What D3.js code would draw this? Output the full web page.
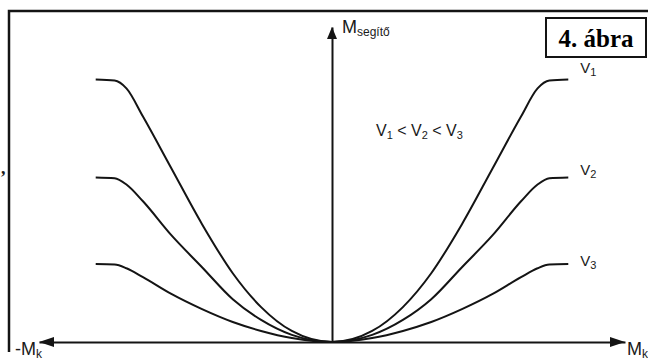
<!DOCTYPE html>
<html>
<head>
<meta charset="utf-8">
<script src="https://cdn.jsdelivr.net/npm/d3@7"></script>
<style>
  body { margin: 0; background: #fff; }
  svg { display: block; }
  text { font-family: 'Liberation Sans', Arial, sans-serif; fill: #1a1a1a; }
</style>
</head>
<body>
<div id="chart"></div>
<script>
// values (right half, the left half is the mirror image)
var mk = [0, 1.7, 3, 4.2, 5.5, 6.8, 8, 8.7, 9.2, 10]; // M_k
var v1 = [0, 0.42, 1.33, 2.62, 4.49, 6.62, 8.59, 9.66, 9.96, 10]; // M_segítő at v1
var v2 = [0, 0.27, 0.84, 1.63, 2.85, 4.07, 5.36, 6.0, 6.24, 6.27]; // at v2
var v3 = [0, 0.15, 0.42, 0.76, 1.25, 1.83, 2.47, 2.81, 2.95, 2.97]; // at v3
var seriesNames = ['1', '2', '3']; // subscripts of v
var xExtent = [-12.4, 12.4]; // axis ends (arrow tips)
var yExtent = [0, 12];

var w = 648, h = 362;
var ink = '#141414';

var svg = d3.select('#chart')
  .append('svg')
  .attr('width', w)
  .attr('height', h);

svg.append('rect').attr('width', w).attr('height', h).attr('fill', '#fff');

var x = d3.scaleLinear().domain(xExtent).range([39, 625]);
var y = d3.scaleLinear().domain(yExtent).range([342, 27]);

//used to translate during transformation
function translation(a, b) {
  return 'translate(' + a + ',' + b + ')';
}

// outer frame (top and left edge of the page box)
svg.append('path')
  .attr('d', 'M9,352V11H648')
  .attr('fill', 'none')
  .attr('stroke', ink)
  .attr('stroke-width', 2.5);

// stray comma left of the frame
svg.append('text')
  .attr('x', 1).attr('y', 174)
  .style('font-family', "'Liberation Serif', serif")
  .style('font-weight', 'bold')
  .style('font-size', '18px')
  .text(',');

// axes: only the lines, no ticks
var xAxis = svg.append('g')
  .attr('transform', translation(0, y(0)))
  .call(d3.axisBottom(x).tickValues([]).tickSizeOuter(0));
var yAxis = svg.append('g')
  .attr('transform', translation(x(0), 0))
  .call(d3.axisLeft(y).tickValues([]).tickSizeOuter(0));
svg.selectAll('.domain').attr('stroke', ink).attr('stroke-width', 2);

// arrow heads
var x0 = x(0), y0 = y(0);
var heads = [
  [[x(xExtent[1]), y0], [x(xExtent[1]) - 15, y0 - 5], [x(xExtent[1]) - 15, y0 + 5]],
  [[x(xExtent[0]), y0], [x(xExtent[0]) + 15, y0 - 5], [x(xExtent[0]) + 15, y0 + 5]],
  [[x0, y(yExtent[1])], [x0 - 5, y(yExtent[1]) + 12], [x0 + 5, y(yExtent[1]) + 12]]
];
svg.selectAll('.head')
  .data(heads)
  .enter().append('path')
  .attr('class', 'head')
  .attr('d', function (d) { return 'M' + d.join('L') + 'Z'; })
  .attr('fill', ink);

// curves, mirrored to the left
var series = [v1, v2, v3].map(function (vals) {
  var right = mk.map(function (m, i) { return [m, vals[i]]; });
  var left = right.slice(1).map(function (p) { return [-p[0], p[1]]; }).reverse();
  return left.concat(right);
});

var line = d3.line()
  .x(function (d) { return x(d[0]); })
  .y(function (d) { return y(d[1]); })
  .curve(d3.curveMonotoneX);

svg.selectAll('.curve')
  .data(series)
  .enter().append('path')
  .attr('class', 'curve')
  .attr('d', line)
  .attr('fill', 'none')
  .attr('stroke', ink)
  .attr('stroke-width', 2);

// v labels at the right end of each curve
var labelDy = [-7, -2, 2];
svg.selectAll('.vlab')
  .data(series)
  .enter().append('text')
  .attr('class', 'vlab')
  .attr('x', x(mk[mk.length - 1]) + 12)
  .attr('y', function (d, i) { return y(d[d.length - 1][1]) + labelDy[i]; })
  .style('font-size', '15px')
  .each(function (d, i) {
    var t = d3.select(this);
    t.append('tspan').text('V');
    t.append('tspan').attr('dy', 3).style('font-size', '11px').text(seriesNames[i]);
  });

// v1 < v2 < v3
var order = svg.append('text')
  .attr('x', 376).attr('y', 136)
  .style('font-size', '16px');
seriesNames.forEach(function (s, i) {
  order.append('tspan').attr('dy', i ? -3 : 0).text((i ? ' < ' : '') + 'V');
  order.append('tspan').attr('dy', 3).style('font-size', '11px').text(s);
});

// axis titles
var yt = svg.append('text').attr('x', 342).attr('y', 33).style('font-size', '18px');
yt.append('tspan').text('M');
yt.append('tspan').attr('dy', 3).style('font-size', '12px').text('segítő');

var xr = svg.append('text').attr('x', 627).attr('y', 355).style('font-size', '18px');
xr.append('tspan').text('M');
xr.append('tspan').attr('dy', 3).style('font-size', '12px').text('k');

var xl = svg.append('text').attr('x', 15).attr('y', 355).style('font-size', '18px');
xl.append('tspan').text('-M');
xl.append('tspan').attr('dy', 3).style('font-size', '12px').text('k');

// figure number box
svg.append('rect')
  .attr('x', 546).attr('y', 18)
  .attr('width', 100).attr('height', 39)
  .attr('fill', '#fff')
  .attr('stroke', ink)
  .attr('stroke-width', 2);
svg.append('text')
  .attr('x', 596).attr('y', 47)
  .attr('text-anchor', 'middle')
  .style('font-family', "'Liberation Serif', 'Times New Roman', serif")
  .style('font-weight', 'bold')
  .style('font-size', '25px')
  .style('fill', '#000')
  .text('4. ábra');
</script>
</body>
</html>
